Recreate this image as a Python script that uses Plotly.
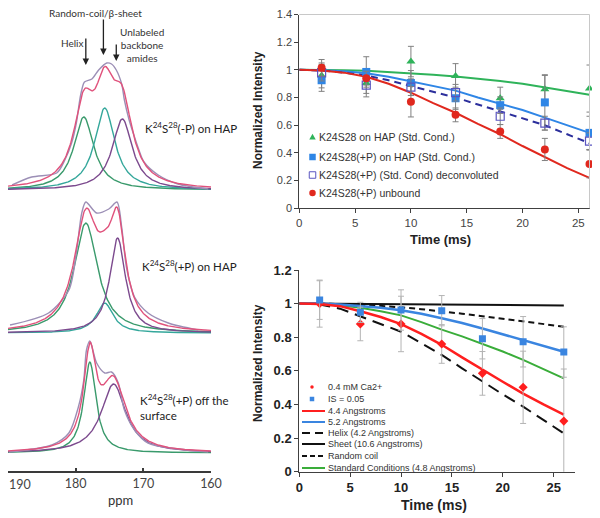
import numpy as np
import plotly.graph_objects as go

# page is 600x518; the figure sits 8 px in from the top-left corner of the page
PAGE_W, PAGE_H = 600, 518
OX, OY = 8, 8
W, H = PAGE_W - OX, PAGE_H - OY

# ---------------- Left panel: 13C NMR spectra (ppm, arbitrary intensity) ----------------
spec_labels = ["K<sup>24</sup>S<sup>28</sup>(-P) on HAP",
               "K<sup>24</sup>S<sup>28</sup>(+P) on HAP",
               "K<sup>24</sup>S<sup>28</sup>(+P) off the<br>surface"]

# fitted component peaks: centre (ppm), height (a.u.), FWHM (ppm)
top_centers = [178.8, 175.7, 173.1]
top_heights = [73, 82, 71]
top_fwhm = [3.6, 3.6, 3.6]
mid_centers = [178.5, 175.7, 173.8]
mid_heights = [110, 30, 95]
mid_fwhm = [4.2, 3.0, 2.8]
bot_centers = [177.9, 174.4]
bot_heights = [91, 69]
bot_fwhm = [2.2, 4.4]

# experimental spectra sampled from the figure (ppm, intensity)
top_exp_ppm = [189.4, 186.5, 182.8, 181.6, 180.6, 179.9, 179.4, 179.1, 178.7, 177.6, 176.6, 175.4,
               174.7, 174.0, 173.2, 172.8, 172.1, 171.5, 170.7, 169.9, 167.8, 164.9, 160.4]
top_exp_int = [5, 13, 17, 30, 47, 67, 90, 100, 108, 111, 120, 127,
               126, 120, 106, 90, 70, 57, 41, 28, 15, 6, 1]
mid_exp_ppm = [189.7, 184.0, 181.0, 179.9, 179.1, 178.5, 176.9, 175.1, 173.9, 173.2, 172.5, 171.3,
               169.3, 166.3, 161.9]
mid_exp_int = [8, 20, 43, 80, 120, 131, 120, 124, 131, 106, 66, 36, 20, 10, 3]
bot_exp_ppm = [189.9, 183.5, 181.0, 179.6, 178.8, 178.4, 177.9, 176.9, 175.7, 174.7, 173.7, 172.8,
               171.3, 169.3, 160.4]
bot_exp_int = [1, 8, 20, 46, 73, 103, 112, 90, 80, 81, 70, 43, 23, 10, 1]

ppm_ticks = [190, 180, 170, 160]
ppm_ticktext = ["190", "180", "170", "160"]

# ---------------- Top right: relaxation data ----------------
time_ms = [2, 6, 10, 14, 18, 22, 26]
hap_std = [0.96, 0.905, 1.06, 0.955, 0.795, 0.86, 0.865]
hap_std_err = [0.09, 0.10, 0.11, 0.09, 0.08, 0.10, 0.17]
hapP_std = [0.925, 0.985, 0.905, 0.795, 0.745, 0.765, 0.545]
hapP_std_err = [0.08, 0.11, 0.09, 0.08, 0.06, 0.20, 0.12]
deconv = [0.98, 0.89, 0.875, 0.835, 0.665, 0.615, 0.485]
deconv_err = [0.06, 0.06, 0.06, 0.06, 0.06, 0.05, 0.06]
unbound = [1.015, 0.94, 0.77, 0.675, 0.555, 0.425, 0.32]
unbound_err = [0.06, 0.05, 0.11, 0.05, 0.05, 0.08, 0.10]

fit_time = [0, 2, 4, 6, 8, 10, 12, 14, 16, 18, 20, 22, 24, 26]
fit_hap_std = [1, 1, 0.998, 0.993, 0.985, 0.975, 0.965, 0.952, 0.937, 0.92, 0.9, 0.875, 0.85, 0.82]
fit_hapP_std = [1, 0.998, 0.99, 0.975, 0.95, 0.915, 0.885, 0.85, 0.8, 0.755, 0.71, 0.655, 0.6, 0.545]
fit_deconv = [1, 0.995, 0.98, 0.96, 0.925, 0.885, 0.845, 0.8, 0.75, 0.7, 0.65, 0.6, 0.535, 0.47]
fit_unbound = [1, 0.995, 0.98, 0.95, 0.9, 0.835, 0.76, 0.69, 0.61, 0.535, 0.45, 0.37, 0.29, 0.22]

top_legend = ["K24S28 on HAP (Std. Cond.)", "K24S28(+P) on HAP (Std. Cond.)",
              "K24S28(+P) (Std. Cond) deconvoluted", "K24S28(+P) unbound"]

# ---------------- Bottom right ----------------
ca_04 = [1.0, 0.879, 0.879, 0.76, 0.585, 0.502, 0.301]
ca_04_err = [0.14, 0.10, 0.165, 0.115, 0.13, 0.215, 0.31]
is_005 = [1.021, 0.948, 0.962, 0.958, 0.791, 0.773, 0.712]
is_005_err = [0.115, 0.06, 0.12, 0.09, 0.12, 0.15, 0.15]

sim_44 = [1, 0.997, 0.985, 0.955, 0.92, 0.878, 0.82, 0.755, 0.68, 0.605, 0.535, 0.465, 0.4, 0.34]
sim_52 = [1, 1, 0.995, 0.985, 0.975, 0.96, 0.94, 0.913, 0.885, 0.852, 0.818, 0.783, 0.75, 0.714]
sim_helix = [1, 0.995, 0.97, 0.925, 0.88, 0.833, 0.765, 0.695, 0.615, 0.535, 0.46, 0.387, 0.31, 0.228]
sim_sheet = [1, 0.999, 0.998, 0.997, 0.996, 0.995, 0.994, 0.993, 0.992, 0.991, 0.99, 0.99, 0.989, 0.989]
sim_coil = [1, 1, 0.998, 0.995, 0.988, 0.978, 0.967, 0.955, 0.94, 0.925, 0.91, 0.895, 0.88, 0.863]
sim_std = [1, 0.998, 0.99, 0.975, 0.955, 0.93, 0.89, 0.845, 0.805, 0.762, 0.715, 0.665, 0.61, 0.555]

bottom_legend = ["0.4 mM Ca2+", "IS = 0.05", "4.4 Angstroms", "5.2 Angstroms",
                 "Helix (4.2 Angstroms)", "Sheet (10.6 Angstroms)", "Random coil",
                 "Standard Conditions (4.8 Angstroms)"]


def px(x):
    """page x pixel -> paper fraction"""
    return (x - OX) / W


def py(y):
    """page y pixel -> paper fraction"""
    return 1 - (y - OY) / H


fig = go.Figure()

# ---------- spectra ----------
GREEN = "#3a9a6c"
TEAL = "#34a79b"
PURPLE = "#7c4a8e"
PINK = "#e0527c"
GREY = "#9c8fb6"

SPEC_AXIS_Y = 471                       # page y of the ppm axis line
offsets = [281, 138, 18]                # baselines above the axis (px)
ppm_grid = np.arange(190.0, 159.95, -0.1)


def lorentz(c, h, w):
    return h / (1 + (2 * (ppm_grid - c) / w) ** 2)


spectra = [
    (top_centers, top_heights, top_fwhm, [GREEN, TEAL, PURPLE], top_exp_ppm, top_exp_int),
    (mid_centers, mid_heights, mid_fwhm, [GREEN, TEAL, PURPLE], mid_exp_ppm, mid_exp_int),
    (bot_centers, bot_heights, bot_fwhm, [GREEN, PURPLE], bot_exp_ppm, bot_exp_int),
]
for (cs, hs, ws, cols, ep, ei), off in zip(spectra, offsets):
    total = np.zeros_like(ppm_grid)
    for c, h, w, col in zip(cs, hs, ws, cols):
        comp = lorentz(c, h, w)
        total += comp
        fig.add_trace(go.Scatter(x=ppm_grid, y=comp + off, mode="lines",
                                 line=dict(color=col, width=1.4), showlegend=False,
                                 xaxis="x", yaxis="y", hoverinfo="skip"))
    fig.add_trace(go.Scatter(x=ep, y=[v + off for v in ei], mode="lines",
                             line=dict(color=GREY, width=1.4, shape="spline", smoothing=0.8),
                             showlegend=False, xaxis="x", yaxis="y", hoverinfo="skip"))
    fig.add_trace(go.Scatter(x=ppm_grid, y=total + off, mode="lines",
                             line=dict(color=PINK, width=1.4), showlegend=False,
                             xaxis="x", yaxis="y", hoverinfo="skip"))

# ---------- top right chart ----------
C_GREEN = "#2fb35a"
C_BLUE = "#2f86e6"
C_NAVY = "#2c2f9c"
C_RED = "#e0281e"
C_OPEN = "#5a55c0"
ERR_TOP = dict(type="data", thickness=1, width=3, color="#808080")

fig.add_trace(go.Scatter(x=fit_time, y=fit_hap_std, mode="lines", line=dict(color=C_GREEN, width=2),
                         showlegend=False, xaxis="x2", yaxis="y2"))
fig.add_trace(go.Scatter(x=fit_time, y=fit_hapP_std, mode="lines", line=dict(color=C_BLUE, width=2),
                         showlegend=False, xaxis="x2", yaxis="y2"))
fig.add_trace(go.Scatter(x=fit_time, y=fit_deconv, mode="lines",
                         line=dict(color=C_NAVY, width=2, dash="7px,5px"),
                         showlegend=False, xaxis="x2", yaxis="y2"))
fig.add_trace(go.Scatter(x=fit_time, y=fit_unbound, mode="lines", line=dict(color=C_RED, width=2),
                         showlegend=False, xaxis="x2", yaxis="y2"))

fig.add_trace(go.Scatter(x=time_ms, y=hap_std, mode="markers", name=top_legend[0], showlegend=False,
                         marker=dict(symbol="triangle-up", size=8, color=C_GREEN),
                         error_y=dict(array=hap_std_err, **ERR_TOP), xaxis="x2", yaxis="y2", cliponaxis=False))
fig.add_trace(go.Scatter(x=time_ms, y=hapP_std, mode="markers", name=top_legend[1], showlegend=False,
                         marker=dict(symbol="square", size=8, color=C_BLUE),
                         error_y=dict(array=hapP_std_err, **ERR_TOP), xaxis="x2", yaxis="y2", cliponaxis=False))
fig.add_trace(go.Scatter(x=time_ms, y=deconv, mode="markers", name=top_legend[2], showlegend=False,
                         marker=dict(symbol="square-open", size=8, color=C_OPEN, line=dict(width=1.2)),
                         error_y=dict(array=deconv_err, **ERR_TOP), xaxis="x2", yaxis="y2", cliponaxis=False))
fig.add_trace(go.Scatter(x=time_ms, y=unbound, mode="markers", name=top_legend[3], showlegend=False,
                         marker=dict(symbol="circle", size=8, color=C_RED),
                         error_y=dict(array=unbound_err, **ERR_TOP), xaxis="x2", yaxis="y2", cliponaxis=False))

# ---------- bottom right chart ----------
B_RED = "#ff1f1f"
B_BLUE = "#3a85e0"
B_GREEN = "#3aad3a"
ERR_BOT = dict(type="data", thickness=1, width=3, color="#b4b4b4")

fig.add_trace(go.Scatter(x=fit_time, y=sim_sheet, mode="lines", line=dict(color="#111111", width=2),
                         showlegend=False, xaxis="x3", yaxis="y3"))
fig.add_trace(go.Scatter(x=fit_time, y=sim_coil, mode="lines",
                         line=dict(color="#111111", width=2, dash="6px,4px"),
                         showlegend=False, xaxis="x3", yaxis="y3"))
fig.add_trace(go.Scatter(x=fit_time, y=sim_helix, mode="lines",
                         line=dict(color="#111111", width=2, dash="12px,7px"),
                         showlegend=False, xaxis="x3", yaxis="y3"))
fig.add_trace(go.Scatter(x=fit_time, y=sim_std, mode="lines", line=dict(color=B_GREEN, width=2),
                         showlegend=False, xaxis="x3", yaxis="y3"))
fig.add_trace(go.Scatter(x=fit_time, y=sim_52, mode="lines", line=dict(color=B_BLUE, width=2.5),
                         showlegend=False, xaxis="x3", yaxis="y3"))
fig.add_trace(go.Scatter(x=fit_time, y=sim_44, mode="lines", line=dict(color=B_RED, width=2.5),
                         showlegend=False, xaxis="x3", yaxis="y3"))
fig.add_trace(go.Scatter(x=time_ms, y=ca_04, mode="markers", name=bottom_legend[0],
                         marker=dict(symbol="diamond", size=7, color=B_RED),
                         error_y=dict(array=ca_04_err, **ERR_BOT),
                         showlegend=False, xaxis="x3", yaxis="y3"))
fig.add_trace(go.Scatter(x=time_ms, y=is_005, mode="markers", name=bottom_legend[1],
                         marker=dict(symbol="square", size=7, color=B_BLUE),
                         error_y=dict(array=is_005_err, **ERR_BOT),
                         showlegend=False, xaxis="x3", yaxis="y3"))

# ---------- annotations ----------
ann = []
LATO = "Lato"
ARIAL = "Liberation Sans"


def text_at(x, y, text, size, family, color="#333", xanchor="center", **kw):
    ann.append(dict(x=px(x), y=py(y), xref="paper", yref="paper", text=text, showarrow=False,
                    xanchor=xanchor, yanchor="middle", font=dict(family=family, size=size, color=color),
                    **kw))


# arrows in the spectrum panel (head positions in ppm / px above axis)
for xppm, yhead, alen in [(178.5, 406, 28), (175.9, 416, 37), (174.0, 410, 18)]:
    ann.append(dict(x=xppm, y=yhead, xref="x", yref="y", ax=0, ay=-alen, showarrow=True,
                    arrowhead=2, arrowsize=1, arrowwidth=1.3, arrowcolor="#222", text=""))
text_at(95, 13, "Random-coil/β-sheet", 10, LATO)
text_at(72, 43, "Helix", 10, LATO)
text_at(142, 45, "Unlabeled<br>backbone<br>amides", 10, LATO)
for lab, (lx, ly) in zip(spec_labels, [(143, 127), (140, 265), (138, 407)]):
    text_at(lx, ly, lab, 11.5, LATO, color="#222", xanchor="left", align="left")
text_at(120, 500, "ppm", 13, LATO)
# first ppm tick label sits just inside the panel edge (as in the original figure)
ann.append(dict(x=ppm_ticks[0], y=py(484), xref="x", yref="paper", text=ppm_ticktext[0],
                showarrow=False, xanchor="left", yanchor="middle", xshift=-1,
                font=dict(family=LATO, size=12.5, color="#444")))

# axis titles for right charts
text_at(440, 240, "<b>Time (ms)</b>", 13, ARIAL, color="#222")
text_at(258, 110, "<b>Normalized Intensity</b>", 12, ARIAL, color="#222", textangle=-90)
text_at(434, 505, "<b>Time (ms)</b>", 14, ARIAL, color="#222")
text_at(258, 363, "<b>Normalized Intensity</b>", 12, ARIAL, color="#222", textangle=-90)

shapes = []


def key_marker(kind, xc, yc, col, s):
    h = s / 2
    if kind == "dot":
        shapes.append(dict(type="circle", xref="paper", yref="paper", x0=px(xc - h), x1=px(xc + h),
                           y0=py(yc + h), y1=py(yc - h), fillcolor=col, line=dict(width=0)))
    elif kind == "sq":
        shapes.append(dict(type="rect", xref="paper", yref="paper", x0=px(xc - h), x1=px(xc + h),
                           y0=py(yc + h), y1=py(yc - h), fillcolor=col, line=dict(width=0)))
    elif kind == "osq":
        shapes.append(dict(type="rect", xref="paper", yref="paper", x0=px(xc - h), x1=px(xc + h),
                           y0=py(yc + h), y1=py(yc - h), fillcolor="white", line=dict(width=1, color=col)))
    elif kind == "tri":
        path = "M {a},{b} L {c},{b} L {d},{e} Z".format(a=px(xc - h), b=py(yc + h * 0.8), c=px(xc + h),
                                                        d=px(xc), e=py(yc - h))
        shapes.append(dict(type="path", xref="paper", yref="paper", path=path, fillcolor=col,
                           line=dict(width=0)))


# legend for the top chart
top_rows = [137, 157, 175, 193]
top_keys = [("tri", C_GREEN), ("sq", C_BLUE), ("osq", C_OPEN), ("dot", C_RED)]
for lab, row, (kind, col) in zip(top_legend, top_rows, top_keys):
    key_marker(kind, 312.5, row, col, 6.5)
    text_at(316.5, row, lab, 10.5, ARIAL, color="#333", xanchor="left")

# legend for the bottom chart
leg_rows = [387, 399, 411, 422, 433, 444, 456, 468]
leg_keys = [("dot", B_RED, None), ("sq", B_BLUE, None), ("line", B_RED, "solid"),
            ("line", B_BLUE, "solid"), ("line", "#111", "dash"), ("line", "#111", "solid"),
            ("line", "#111", "dot"), ("line", B_GREEN, "solid")]
for lab, row, (kind, col, dash) in zip(bottom_legend, leg_rows, leg_keys):
    if kind in ("dot", "sq"):
        key_marker(kind, 312, row, col, 3.5 if kind == "dot" else 4.5)
    else:
        dd = {"solid": "solid", "dash": "8px,5px", "dot": "5px,3px"}[dash]
        shapes.append(dict(type="line", xref="paper", yref="paper", x0=px(302), x1=px(325),
                           y0=py(row), y1=py(row), line=dict(color=col, width=2, dash=dd)))
    text_at(326, row, lab, 9, ARIAL, color="#333", xanchor="left")

# light frame on top chart
shapes.append(dict(type="line", xref="x2 domain", yref="y2 domain", x0=0, x1=1, y0=1, y1=1,
                   line=dict(color="#c8c8c8", width=1)))
shapes.append(dict(type="line", xref="x2 domain", yref="y2 domain", x0=1, x1=1, y0=0, y1=1,
                   line=dict(color="#c8c8c8", width=1)))

axis_common = dict(showgrid=False, zeroline=False, showline=True, ticks="outside", ticklen=4,
                   automargin=False, ticklabeloverflow="allow")
spec_axis = dict(axis_common)
spec_axis.update(ticks="inside", ticklen=3)

fig.update_layout(
    width=W, height=H, margin=dict(l=0, r=0, t=0, b=0, autoexpand=False),
    paper_bgcolor="white", plot_bgcolor="rgba(0,0,0,0)",
    xaxis=dict(domain=[0, px(211)], range=[190, 160], anchor="y", tickvals=ppm_ticks,
               ticktext=[""] + ppm_ticktext[1:],
               linecolor="#3a3a3a", linewidth=2, tickcolor="#3a3a3a", tickwidth=1.5,
               tickfont=dict(family=LATO, size=12.5, color="#444"), **spec_axis),
    yaxis=dict(domain=[py(SPEC_AXIS_Y), 1], range=[0, SPEC_AXIS_Y - OY], anchor="x", visible=False,
               automargin=False),
    xaxis2=dict(domain=[px(299.3), px(589.5)], range=[0, 26], anchor="y2", dtick=5, tick0=0,
                linecolor="#404040", linewidth=1, tickcolor="#404040",
                tickfont=dict(family=ARIAL, size=11.5, color="#444"), **axis_common),
    yaxis2=dict(domain=[py(208.3), py(14.5)], range=[0, 1.4], anchor="x2", dtick=0.2, tick0=0,
                linecolor="#404040", linewidth=1, tickcolor="#404040",
                tickfont=dict(family=ARIAL, size=11, color="#444"), **axis_common),
    xaxis3=dict(domain=[px(299.3), px(575)], range=[0, 27.1], anchor="y3", dtick=5, tick0=0,
                linecolor="#404040", linewidth=1, tickcolor="#404040",
                tickfont=dict(family=ARIAL, size=13, color="#222", weight="bold"), **axis_common),
    yaxis3=dict(domain=[py(471.7), py(270)], range=[0, 1.2], anchor="x3", dtick=0.2, tick0=0,
                linecolor="#404040", linewidth=1, tickcolor="#404040",
                tickfont=dict(family=ARIAL, size=13, color="#222", weight="bold"), **axis_common),
    showlegend=False,
    annotations=ann, shapes=shapes,
)

fig.write_html("out.html")
